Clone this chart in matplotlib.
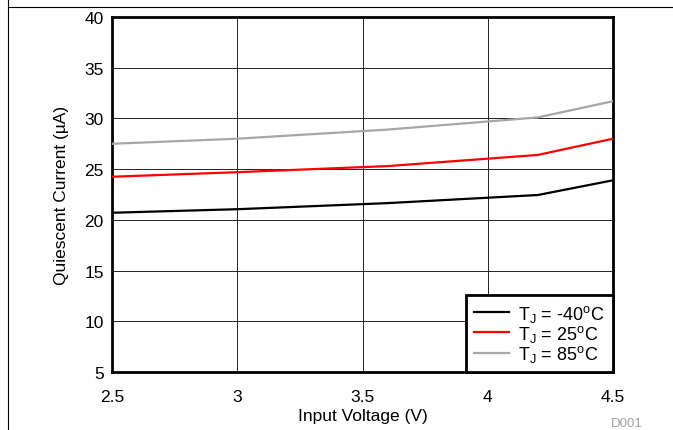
import matplotlib
matplotlib.use("Agg")
import matplotlib.pyplot as plt
from matplotlib.lines import Line2D

plt.rcParams['font.family'] = ['Liberation Sans', 'DejaVu Sans']

# Input voltage (V) and quiescent current (uA) per junction temperature
vin = [2.5, 3.0, 3.6, 4.2, 4.5]
iq_m40 = [20.7, 21.05, 21.65, 22.45, 23.9]
iq_25 = [24.25, 24.7, 25.3, 26.4, 28.0]
iq_85 = [27.5, 28.0, 28.9, 30.1, 31.7]

labels = [r'T$_\mathregular{J}$ = -40$^\mathregular{o}$C',
          r'T$_\mathregular{J}$ = 25$^\mathregular{o}$C',
          r'T$_\mathregular{J}$ = 85$^\mathregular{o}$C']
colors = ['#000000', '#ff0000', '#a6a6a6']

fig = plt.figure(figsize=(6.73, 4.31), dpi=100)
ax = fig.add_axes([112/673, 1 - 373/431, (613 - 112)/673, (373 - 18)/431])

for y, lab, c in zip([iq_m40, iq_25, iq_85], labels, colors):
    ax.plot(vin, y, color=c, lw=1.6, label=lab, zorder=3)

ax.set_xlim(2.5, 4.5)
ax.set_ylim(5, 40)
ax.set_xticks([2.5, 3, 3.5, 4, 4.5])
ax.set_xticklabels(['2.5', '3', '3.5', '4', '4.5'])
ax.set_yticks(range(5, 41, 5))
ax.tick_params(length=0, labelsize=12.5)
ax.tick_params(axis='x', pad=12)
ax.tick_params(axis='y', pad=6)
ax.grid(True, color='#222222', lw=0.7)
ax.set_axisbelow(True)
for s in ax.spines.values():
    s.set_linewidth(2)

ax.set_xlabel('Input Voltage (V)', fontsize=12.5, labelpad=3)
ax.set_ylabel('Quiescent Current (µA)', fontsize=12.5, labelpad=11)

leg = ax.legend(loc='lower right', fontsize=13, frameon=True, fancybox=False,
                borderaxespad=0, handlelength=1.95, handletextpad=0.5,
                labelspacing=-0.05, borderpad=0.45)
leg.get_frame().set_edgecolor('black')
leg.get_frame().set_linewidth(2)
leg.get_frame().set_alpha(1)

# outer frame lines
fig.add_artist(Line2D([7.5/673, 1], [1 - 7.5/431, 1 - 7.5/431], color='black', lw=0.8))
fig.add_artist(Line2D([7.5/673, 7.5/673], [0, 1], color='black', lw=0.8))

fig.text(627/673, 1 - 424/431, 'D001', fontsize=9.5, color='#a0a0a0', ha='center', va='center')

fig.savefig('out.png', dpi=100)
